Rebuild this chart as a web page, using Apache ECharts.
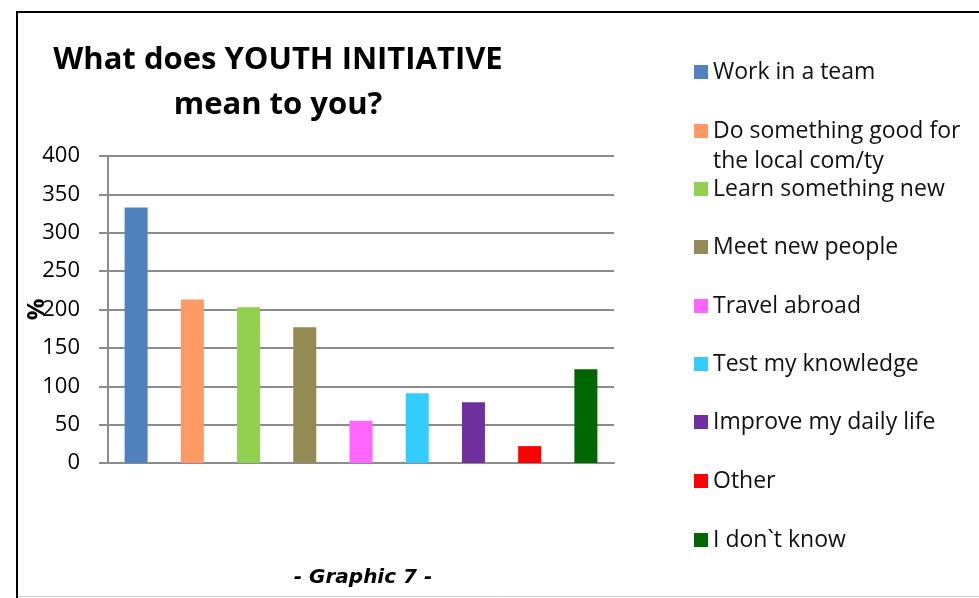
<!DOCTYPE html>
<html>
<head>
<meta charset="utf-8">
<script src="https://cdn.jsdelivr.net/npm/echarts@6/dist/echarts.min.js"></script>
<style>
  html, body { margin: 0; padding: 0; background: #fff; }
  #chart { width: 979px; height: 598px; }
</style>
</head>
<body>
<div id="chart"></div>
<script>
// data
var categories = ['Work in a team', 'Do something good for the local com/ty', 'Learn something new',
  'Meet new people', 'Travel abroad', 'Test my knowledge', 'Improve my daily life', 'Other', 'I don`t know'];
var values = [333, 213, 203, 177, 55, 91, 79, 22, 122];
var colors = ['#4F81BD', '#FF9966', '#92D050', '#948A54', '#FF66FF', '#33CCFF', '#7030A0', '#FF0000', '#006600'];
var yMin = 0, yMax = 400, yStep = 50;

var font = 'Open Sans';
var legendCenters = [72, 131, 189, 247, 306, 364, 422, 481, 540];

// one series per answer, stacked so every category holds a single bar
var series = categories.map(function (name, i) {
  var d = categories.map(function (c, j) { return j === i ? values[i] : '-'; });
  return {
    name: name,
    type: 'bar',
    stack: 'all',
    barWidth: 23,
    itemStyle: { color: colors[i] },
    data: d
  };
});

var legends = categories.map(function (name, i) {
  var lg = {
    data: [name],
    left: 694,
    top: legendCenters[i] - 15,
    orient: 'vertical',
    itemWidth: 14,
    itemHeight: 14,
    icon: 'rect',
    selectedMode: false,
    padding: 0,
    textStyle: { fontFamily: font, fontSize: 23, color: '#111', lineHeight: 30 }
  };
  if (i === 1) {
    lg.top = legendCenters[i] - 45;
    lg.formatter = function () { return '\nDo something good for\nthe local com/ty'; };
  }
  return lg;
});

var myChart = echarts.init(document.getElementById('chart'), null, { renderer: 'canvas' });
var option = {
  animation: false,
  backgroundColor: '#fff',
  title: {
    text: 'What does YOUTH INITIATIVE\nmean to you?',
    left: 273,
    top: 33,
    textAlign: 'center',
    textStyle: { fontFamily: font, fontWeight: 'bold', fontSize: 31, lineHeight: 45, color: '#000' }
  },
  legend: legends,
  grid: { left: 108, right: 365, top: 156, bottom: 135 },
  xAxis: {
    type: 'category',
    data: categories,
    axisLine: { lineStyle: { color: '#8c8c8c', width: 2 } },
    axisTick: { show: false },
    axisLabel: { show: false }
  },
  yAxis: {
    type: 'value',
    min: yMin,
    max: yMax,
    interval: yStep,
    name: '%',
    nameLocation: 'middle',
    nameGap: 59,
    nameMoveOverlap: false,
    nameTextStyle: { fontFamily: font, fontWeight: 'bold', fontSize: 24, color: '#000' },
    axisLine: { show: true, lineStyle: { color: '#8c8c8c', width: 2 } },
    axisTick: { show: true, length: 9, lineStyle: { color: '#8c8c8c', width: 2 } },
    axisLabel: { margin: 28, fontFamily: font, fontSize: 22, color: '#000' },
    splitLine: { lineStyle: { color: '#8c8c8c', width: 2 } }
  },
  graphic: [
    {
      type: 'rect',
      shape: { x: 17, y: 12, width: 1000, height: 620 },
      style: { fill: 'none', stroke: '#000', lineWidth: 2 },
      silent: true
    },
    {
      type: 'line',
      shape: { x1: 18, y1: 596.5, x2: 979, y2: 596.5 },
      style: { stroke: '#d0d0d0', lineWidth: 1 },
      silent: true
    },
    {
      type: 'text',
      x: 363,
      y: 578,
      style: {
        text: '- Graphic 7 -',
        fontFamily: 'DejaVu Sans',
        fontWeight: 'bold',
        fontStyle: 'italic',
        fontSize: 20,
        fill: '#000',
        align: 'center',
        verticalAlign: 'middle'
      }
    }
  ],
  series: series
};
myChart.setOption(option);
</script>
</body>
</html>
